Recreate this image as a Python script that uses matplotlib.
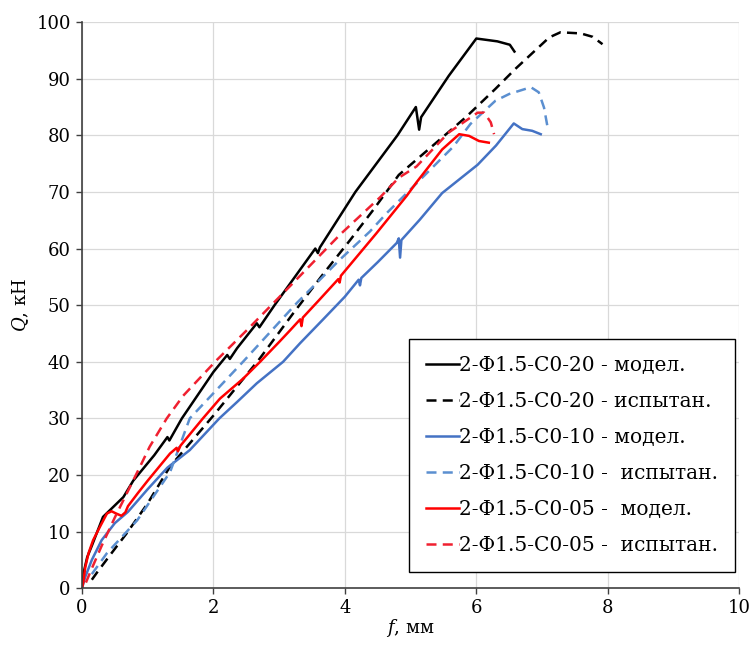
import matplotlib
matplotlib.use("Agg")
import matplotlib.pyplot as plt

plt.rcParams['font.family'] = ['DejaVu Serif']
plt.rcParams['mathtext.fontset'] = 'custom'
plt.rcParams['mathtext.it'] = 'DejaVu Serif:italic'
plt.rcParams['mathtext.rm'] = 'DejaVu Serif'

# --- data (f in mm, Q in kN) ---
f_m20 = [0, 0.03, 0.08, 0.15, 0.32, 0.63, 0.78, 1.1, 1.3, 1.33, 1.52, 2.0, 2.21, 2.25, 2.36,
         2.66, 2.7, 2.93, 3.55, 3.59, 3.62, 4.16, 4.8, 5.08, 5.13, 5.16, 5.58, 6.0, 6.32, 6.51, 6.58]
q_m20 = [0, 3, 5.5, 7.5, 12.6, 16.1, 19, 23.5, 26.7, 26.1, 30, 38.2, 41.2, 40.5, 42.4,
         46.8, 46.1, 50, 60, 59.2, 60.2, 70, 80, 85, 81, 83.2, 90.5, 97.1, 96.6, 96.0, 94.8]

f_t20 = [0.15, 0.23, 0.45, 0.68, 1.0, 1.34, 2.0, 2.7, 3.21, 3.67, 4.08, 4.43, 4.82, 5.33,
         5.84, 6.29, 6.6, 7.11, 7.28, 7.59, 7.77, 7.92]
q_t20 = [1.5, 2.8, 6.2, 9.7, 15, 21.5, 30.5, 40.5, 48.5, 55.5, 61.5, 66.8, 73, 78.1,
         83.2, 88.2, 91.8, 97.3, 98.2, 98.0, 97.4, 96.1]

f_m10 = [0, 0.05, 0.15, 0.3, 0.5, 0.7, 1.0, 1.3, 1.64, 2.09, 2.36, 2.66, 3.06, 3.32, 3.67,
         4.0, 4.21, 4.23, 4.25, 4.5, 4.79, 4.82, 4.84, 4.86, 5.14, 5.48, 6.02, 6.3, 6.57,
         6.70, 6.85, 6.98]
q_m10 = [0, 2, 5, 8.5, 11.5, 13.5, 17.5, 21.3, 24.4, 30, 32.9, 36.2, 40, 43.3, 47.5,
         51.5, 54.5, 53.5, 54.8, 57.6, 61, 61.8, 58.4, 61.5, 65.1, 69.8, 74.8, 78.2, 82.1,
         81.1, 80.8, 80.2]

f_t10 = [0.15, 0.38, 0.84, 1.34, 1.64, 2.45, 3.27, 3.92, 4.38, 4.64, 5.65, 5.91, 6.29,
         6.5, 6.83, 6.95, 7.03, 7.08]
q_t10 = [2.5, 6.2, 12, 20.5, 30, 40, 50.4, 58, 63, 66.3, 78, 82, 86.1,
         87.3, 88.5, 87.6, 84.9, 81.7]

f_m05 = [0, 0.02, 0.05, 0.1, 0.17, 0.28, 0.38, 0.45, 0.52, 0.6, 0.66, 0.7, 0.85, 1.0,
         1.34, 1.44, 1.46, 1.5, 1.84, 2.1, 2.45, 2.71, 3.0, 3.17, 3.32, 3.34, 3.36, 3.6,
         3.9, 3.92, 3.94, 4.48, 4.94, 5.09, 5.48, 5.74, 5.89, 6.04, 6.19]
q_m05 = [0, 1, 3.7, 6.2, 8.5, 11, 13.2, 13.6, 13.2, 12.8, 13.4, 14.5, 16.8, 19,
         23.8, 24.8, 24.2, 25.2, 30, 33.5, 37, 40, 43.5, 45.6, 47.5, 46.3, 47.8, 50.8,
         54.6, 54.0, 55.2, 62.7, 69.3, 71.7, 77.5, 80.2, 79.9, 79.0, 78.7]

f_t05 = [0.06, 0.15, 0.3, 0.5, 0.88, 1.03, 1.29, 1.54, 2.05, 2.51, 3.16, 3.93, 4.54,
         4.82, 5.09, 5.58, 6.02, 6.12, 6.22, 6.27]
q_t05 = [1, 3.5, 7.5, 12.5, 21.4, 25, 30, 34, 40.3, 45.6, 53.3, 62.5, 69.1,
         72.5, 74.5, 80.5, 84.0, 84.0, 82.3, 80.2]

labels = ["2-Ф1.5-С0-20 - модел.",
          "2-Ф1.5-С0-20 - испытан.",
          "2-Ф1.5-С0-10 - модел.",
          "2-Ф1.5-С0-10 -  испытан.",
          "2-Ф1.5-С0-05 -  модел.",
          "2-Ф1.5-С0-05 -  испытан."]

x_ticks = [0, 2, 4, 6, 8, 10]
y_ticks = [0, 10, 20, 30, 40, 50, 60, 70, 80, 90, 100]

# --- figure ---
fig = plt.figure(figsize=(7.52, 6.5), dpi=100)
ax = fig.add_axes([0.109, 0.095, 0.874, 0.871])

lw = 1.8
dash = (0, (4, 2.5))
ax.plot(f_m20, q_m20, color='black', lw=lw, label=labels[0])
ax.plot(f_t20, q_t20, color='black', lw=lw, linestyle=dash, label=labels[1])
ax.plot(f_m10, q_m10, color='#4472C4', lw=lw, label=labels[2])
ax.plot(f_t10, q_t10, color='#5B8FD0', lw=lw, linestyle=dash, label=labels[3])
ax.plot(f_m05, q_m05, color='#FF0000', lw=lw, label=labels[4])
ax.plot(f_t05, q_t05, color='#F02030', lw=lw, linestyle=dash, label=labels[5])

ax.set_xlim(0, 10)
ax.set_ylim(0, 100)
ax.set_xticks(x_ticks)
ax.set_yticks(y_ticks)
ax.grid(True, color='#d9d9d9', lw=0.9)
ax.set_axisbelow(True)
for s in ['top', 'right']:
    ax.spines[s].set_visible(False)
for s in ['left', 'bottom']:
    ax.spines[s].set_color('#404040')
    ax.spines[s].set_linewidth(1.2)
ax.tick_params(direction='out', length=4, width=1, color='#404040',
               labelsize=13, pad=4)

ax.set_xlabel('$f$, мм', fontsize=13, labelpad=0)
ax.set_ylabel('$Q$, кН', fontsize=13, labelpad=4)

leg = ax.legend(loc='lower right', bbox_to_anchor=(0.994, 0.028), fontsize=14.5,
                frameon=True, fancybox=False, framealpha=1, edgecolor='black',
                handlelength=1.65, handletextpad=0.0, labelspacing=0.85,
                borderpad=0.85, borderaxespad=0)
leg.get_frame().set_linewidth(1.0)

fig.savefig('out.png', dpi=100)
